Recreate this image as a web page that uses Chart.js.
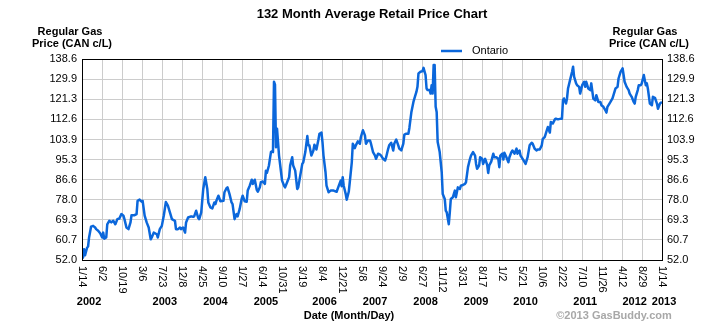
<!DOCTYPE html>
<html>
<head>
<meta charset="utf-8">
<title>132 Month Average Retail Price Chart</title>
<script src="https://cdn.jsdelivr.net/npm/chart.js@4.4.1/dist/chart.umd.min.js"></script>
<style>
  html, body { margin: 0; padding: 0; background: #fff; }
  canvas { display: block; }
</style>
</head>
<body>
<canvas id="priceChart" width="726" height="331"></canvas>
<script>
// Chart data
const startDate = '2002-01-14';
const endDate = '2013-01-14';

const tickDates = [
  '2002-01-14', '2002-06-02', '2002-10-19', '2003-03-06', '2003-07-23', '2003-12-08',
  '2004-04-25', '2004-09-10', '2005-01-27', '2005-06-14', '2005-10-31', '2006-03-19',
  '2006-08-04', '2006-12-21', '2007-05-08', '2007-09-24', '2008-02-09', '2008-06-27',
  '2008-11-12', '2009-03-31', '2009-08-17', '2010-01-02', '2010-05-21', '2010-10-06',
  '2011-02-22', '2011-07-10', '2011-11-26', '2012-04-12', '2012-08-29', '2013-01-14'
];

const yTicks = [52.0, 60.7, 69.3, 78.0, 86.6, 95.3, 103.9, 112.6, 121.3, 129.9, 138.6];

const yearLabels = ['2002', '2003', '2004', '2005', '2006', '2007', '2008', '2009', '2010', '2011', '2012', '2013'];
const yearWeeks = [7, 82, 132, 182, 240, 290, 340, 390, 439, 498, 547, 576];

// Ontario, weeks since 2002-01-14
const weeks = [
  0, 1, 2, 3, 5, 6, 7, 9, 11, 13, 14, 16, 18, 20, 21, 22, 24, 25, 27, 29, 31, 33, 35, 37, 39,
  41, 42, 44, 46, 48, 49, 52, 54, 55, 57, 59, 60, 62, 64, 66, 68, 69, 71, 74, 75, 77, 79, 81,
  83, 85, 87, 89, 92, 93, 95, 97, 98, 100, 102, 103, 105, 108, 110, 111, 113, 115, 116, 118,
  120, 122, 124, 125, 127, 129, 131, 132, 133, 135, 137, 140, 141, 143, 144, 146, 148, 149,
  151, 153, 154, 156, 158, 159, 161, 163, 164, 166, 168, 169, 171, 173, 174, 176, 177, 179,
  181, 182, 183, 185, 187, 188, 189, 190, 191, 192, 193, 194, 195, 197, 198, 200, 201, 203,
  205, 206, 208, 209, 211, 213, 214, 216, 218, 219, 221, 223, 224, 225, 227, 229, 230, 232,
  234, 235, 237,
  238, 239, 241, 242, 244, 246, 247, 249, 252, 254, 256, 257, 258, 259, 261, 262, 264, 265,
  267, 268, 270, 271, 273, 275, 276, 278, 280, 281, 283, 285, 286, 288, 290, 291, 293, 295,
  296, 298, 300, 301, 303, 304, 306, 308, 309, 311, 313, 314, 316, 318, 319, 321, 323, 324,
  326, 328, 329, 331, 332, 333, 335, 337, 338, 340, 341, 342, 344, 345, 346, 347, 348, 349,
  350, 351, 352, 354, 356,
  357, 359, 360, 361, 363, 364, 365, 367, 369, 370, 372, 374, 375, 377, 379, 380, 382, 384,
  385, 387, 389, 390, 391, 393, 394, 396, 397, 399, 401, 402, 403, 405, 407, 408, 410, 412,
  413, 414, 416, 417, 418, 420, 422, 423, 425, 426, 428, 430, 431, 433, 434, 435, 437, 439,
  441, 443, 445, 446, 448, 450, 451, 453, 455, 456, 458, 459, 461, 463, 464, 466, 468, 469,
  471, 474,
  475, 476, 477, 479, 480, 481, 483, 485, 486, 487, 489, 490, 492, 493, 495, 497, 498, 499,
  501, 503, 504, 506, 508, 509, 511, 513, 514, 516, 518, 519, 520, 522, 523, 525, 526, 528,
  530, 531, 533, 535, 536, 537, 539, 541, 542, 544, 546, 547, 548, 550, 551, 553, 554, 556,
  557, 558, 559, 560, 562, 564, 565, 567, 569, 570, 572, 574
];

const prices = [
  56.6, 53.0, 56.6, 54.0, 57.3, 57.8, 61.7, 66.4, 66.7, 66.0, 65.3, 64.6, 63.5, 61.7, 63.8, 61.2, 61.7, 67.4, 68.9, 68.2, 68.9, 67.4, 69.6, 69.9, 71.8,
  71.1, 69.6, 66.0, 65.3, 68.2, 71.3, 71.3, 71.8, 77.5, 78.0, 77.1, 77.5, 71.1, 68.2, 66.0, 60.9, 61.7, 63.8, 63.1, 61.7, 65.3, 66.7, 71.3,
  77.0, 75.4, 72.5, 69.6, 68.9, 65.3, 65.3, 66.0, 65.3, 66.0, 63.8, 68.2, 70.3, 70.8, 70.6, 70.8, 73.2, 70.1, 69.6, 72.5,
  82.6, 87.7, 82.6, 76.8, 74.7, 74.2, 76.8, 76.1, 77.5, 79.7, 77.3, 77.5, 81.2, 82.9, 83.3, 80.4, 76.8, 76.1,
  69.6, 71.8, 70.8, 73.9, 78.3, 79.7, 77.3, 77.1, 81.9, 84.0, 86.6, 84.8, 86.6, 82.2, 81.4, 83.3, 85.5, 85.8,
  84.8, 90.5, 89.5, 92.7, 98.5, 98.8, 98.5, 128.8, 127.5, 100.6, 108.6, 102.8, 97.0, 89.8, 86.2, 84.0, 83.3, 85.5,
  87.7, 92.7, 96.3, 92.7, 90.5, 82.6, 83.3, 88.4, 93.4, 94.1, 98.5, 105.4, 101.4, 101.4, 97.0, 99.2, 101.7, 99.6,
  103.9, 106.4, 106.9,
  102.8, 97.0, 89.8, 84.0, 81.2, 81.9, 81.9, 81.9, 81.4, 83.8, 86.2, 83.8, 87.7, 84.0, 80.4, 78.0, 81.4, 85.5,
  94.1, 102.1, 100.2, 101.4, 103.1, 102.1, 105.0, 107.9, 105.7, 102.1, 103.5, 103.5, 102.1, 98.5, 97.0, 95.6, 97.8, 97.4,
  97.0, 95.6, 94.9, 96.3, 99.9, 101.4, 102.5, 99.2, 102.1, 103.9, 101.4, 100.0, 99.2, 102.1, 106.0, 106.4, 106.4, 108.9,
  115.8, 120.1, 121.6, 124.5, 126.6, 132.4, 133.1, 133.4, 134.8, 131.7, 125.9, 125.2, 125.2, 123.7, 127.3, 123.7, 136.0, 136.0,
  118.0, 115.8, 102.8, 98.5, 89.8,
  80.4, 78.3, 73.3, 72.5, 67.4, 72.5, 78.3, 79.0, 81.9, 79.0, 83.3, 82.6, 84.0, 84.3, 84.8, 85.5, 92.0, 95.6,
  97.0, 98.5, 97.0, 93.4, 91.3, 92.7, 96.3, 95.6, 93.4, 95.6, 93.0, 89.5, 92.7, 94.4, 97.8, 96.3, 96.3, 95.6,
  92.0, 97.0, 97.8, 95.3, 98.2, 96.3, 94.1, 96.3, 98.5, 99.2, 97.8, 100.0, 97.8, 99.2, 97.0, 96.3, 94.9, 93.4,
  96.3, 101.4, 102.5, 102.1, 99.9, 99.2, 99.6, 99.6, 101.4, 104.2, 105.0, 106.4, 109.3, 106.9, 111.5, 110.8, 112.6, 112.9,
  112.6, 112.9,
  112.9, 120.8, 121.6, 119.4, 121.6, 125.9, 129.5, 133.1, 135.3, 131.0, 128.1, 127.3, 126.6, 123.7, 127.3, 128.8, 126.6, 128.8,
  125.9, 125.2, 128.1, 121.6, 120.8, 123.0, 120.1, 120.1, 118.7, 118.0, 116.5, 115.5, 118.0, 119.4, 120.1, 121.6, 123.0, 125.9,
  126.6, 130.2, 133.1, 134.6, 131.7, 128.8, 126.6, 125.2, 123.7, 122.3, 120.1, 119.4, 122.3, 125.2, 127.3, 127.3, 128.1, 131.7,
  129.5, 127.3, 128.1, 125.9, 119.4, 118.7, 122.3, 121.9, 119.4, 117.2, 119.4, 120.1
];

const FONT = 'Arial, "Liberation Sans", sans-serif';
const lineColor = '#0b67db';
const gridColor = '#cccccc';
const DAY = 24 * 3600 * 1000;

function daysFromStart(iso) {
  return Math.round((Date.parse(iso) - Date.parse(startDate)) / DAY);
}

const totalDays = daysFromStart(endDate);
const tickDays = tickDates.map(daysFromStart);
const tickLabels = tickDates.map(function (d) {
  const parts = d.split('-');
  return parseInt(parts[1], 10) + '/' + parseInt(parts[2], 10);
});
const points = weeks.map(function (w, i) { return { x: w * 7, y: prices[i] }; });

// Texts drawn around the plot (title, legend, axis titles, rotated dates)
const decorations = {
  id: 'decorations',
  afterDraw(chart) {
    const ctx = chart.ctx;
    const area = chart.chartArea;
    const xs = chart.scales.x;
    ctx.save();

    // frame
    ctx.strokeStyle = '#000';
    ctx.lineWidth = 1;
    ctx.strokeRect(area.left + 0.5, area.top + 0.5, area.right - area.left, area.bottom - area.top);

    ctx.fillStyle = '#000';
    ctx.textBaseline = 'alphabetic';

    // title
    ctx.font = 'bold 13px ' + FONT;
    ctx.textAlign = 'center';
    ctx.fillText('132 Month Average Retail Price Chart', (area.left + area.right) / 2, 18);

    // y axis titles
    ctx.font = 'bold 11px ' + FONT;
    ctx.fillText('Regular Gas', 70, 35);
    ctx.fillText('Price (CAN c/L)', 72, 47);
    ctx.fillText('Regular Gas', 645, 35);
    ctx.fillText('Price (CAN c/L)', 649, 47);

    // legend
    ctx.strokeStyle = lineColor;
    ctx.lineWidth = 2.5;
    ctx.beginPath();
    ctx.moveTo(441, 51);
    ctx.lineTo(462, 51);
    ctx.stroke();
    ctx.font = '11px ' + FONT;
    ctx.textAlign = 'left';
    ctx.textBaseline = 'middle';
    ctx.fillText('Ontario', 472, 51);

    // x tick labels, turned clockwise
    tickDays.forEach(function (d, i) {
      ctx.save();
      ctx.translate(xs.getPixelForValue(d), area.bottom + 6);
      ctx.rotate(Math.PI / 2);
      ctx.textAlign = 'left';
      ctx.textBaseline = 'middle';
      ctx.fillText(tickLabels[i], 0, 0);
      ctx.restore();
    });

    // years
    ctx.font = 'bold 11px ' + FONT;
    ctx.textAlign = 'center';
    ctx.textBaseline = 'alphabetic';
    yearLabels.forEach(function (y, i) {
      ctx.fillText(y, xs.getPixelForValue(yearWeeks[i] * 7), 305);
    });

    // x axis title and credit
    ctx.fillText('Date (Month/Day)', 349, 319);
    ctx.fillStyle = '#a8a8a8';
    ctx.fillText('\u00a92013 GasBuddy.com', 614, 319);

    ctx.restore();
  }
};

const yAxis = function (position, width) {
  return {
    position: position,
    min: 52.0,
    max: 138.6,
    afterBuildTicks: function (scale) {
      scale.ticks = yTicks.map(function (v) { return { value: v }; });
    },
    afterFit: function (scale) { scale.width = width; },
    ticks: {
      color: '#000',
      padding: 5,
      font: { family: FONT, size: 11 },
      callback: function (v) { return v.toFixed(1); }
    },
    grid: { color: gridColor, drawTicks: false, drawOnChartArea: position === 'left' },
    border: { display: false }
  };
};

let ctx = document.getElementById('priceChart').getContext('2d');

let priceChart = new Chart(ctx, {
  type: 'line',
  data: {
    datasets: [{
      label: 'Ontario',
      data: points,
      borderColor: lineColor,
      borderWidth: 2.5,
      borderJoinStyle: 'round',
      pointRadius: 0,
      fill: false,
      tension: 0
    }]
  },
  options: {
    responsive: false,
    animation: false,
    devicePixelRatio: 1,
    layout: { padding: { top: 59, bottom: 71, left: 0, right: 0 } },
    plugins: {
      legend: { display: false },
      title: { display: false },
      tooltip: { enabled: false }
    },
    scales: {
      x: {
        type: 'linear',
        min: 0,
        max: totalDays,
        afterBuildTicks: function (scale) {
          scale.ticks = tickDays.map(function (v) { return { value: v }; });
        },
        afterFit: function (scale) { scale.height = 0; },
        ticks: { display: false },
        grid: { color: gridColor, drawTicks: false },
        border: { display: false }
      },
      y: yAxis('left', 82),
      y2: yAxis('right', 64)
    }
  },
  plugins: [decorations]
});
</script>
</body>
</html>
